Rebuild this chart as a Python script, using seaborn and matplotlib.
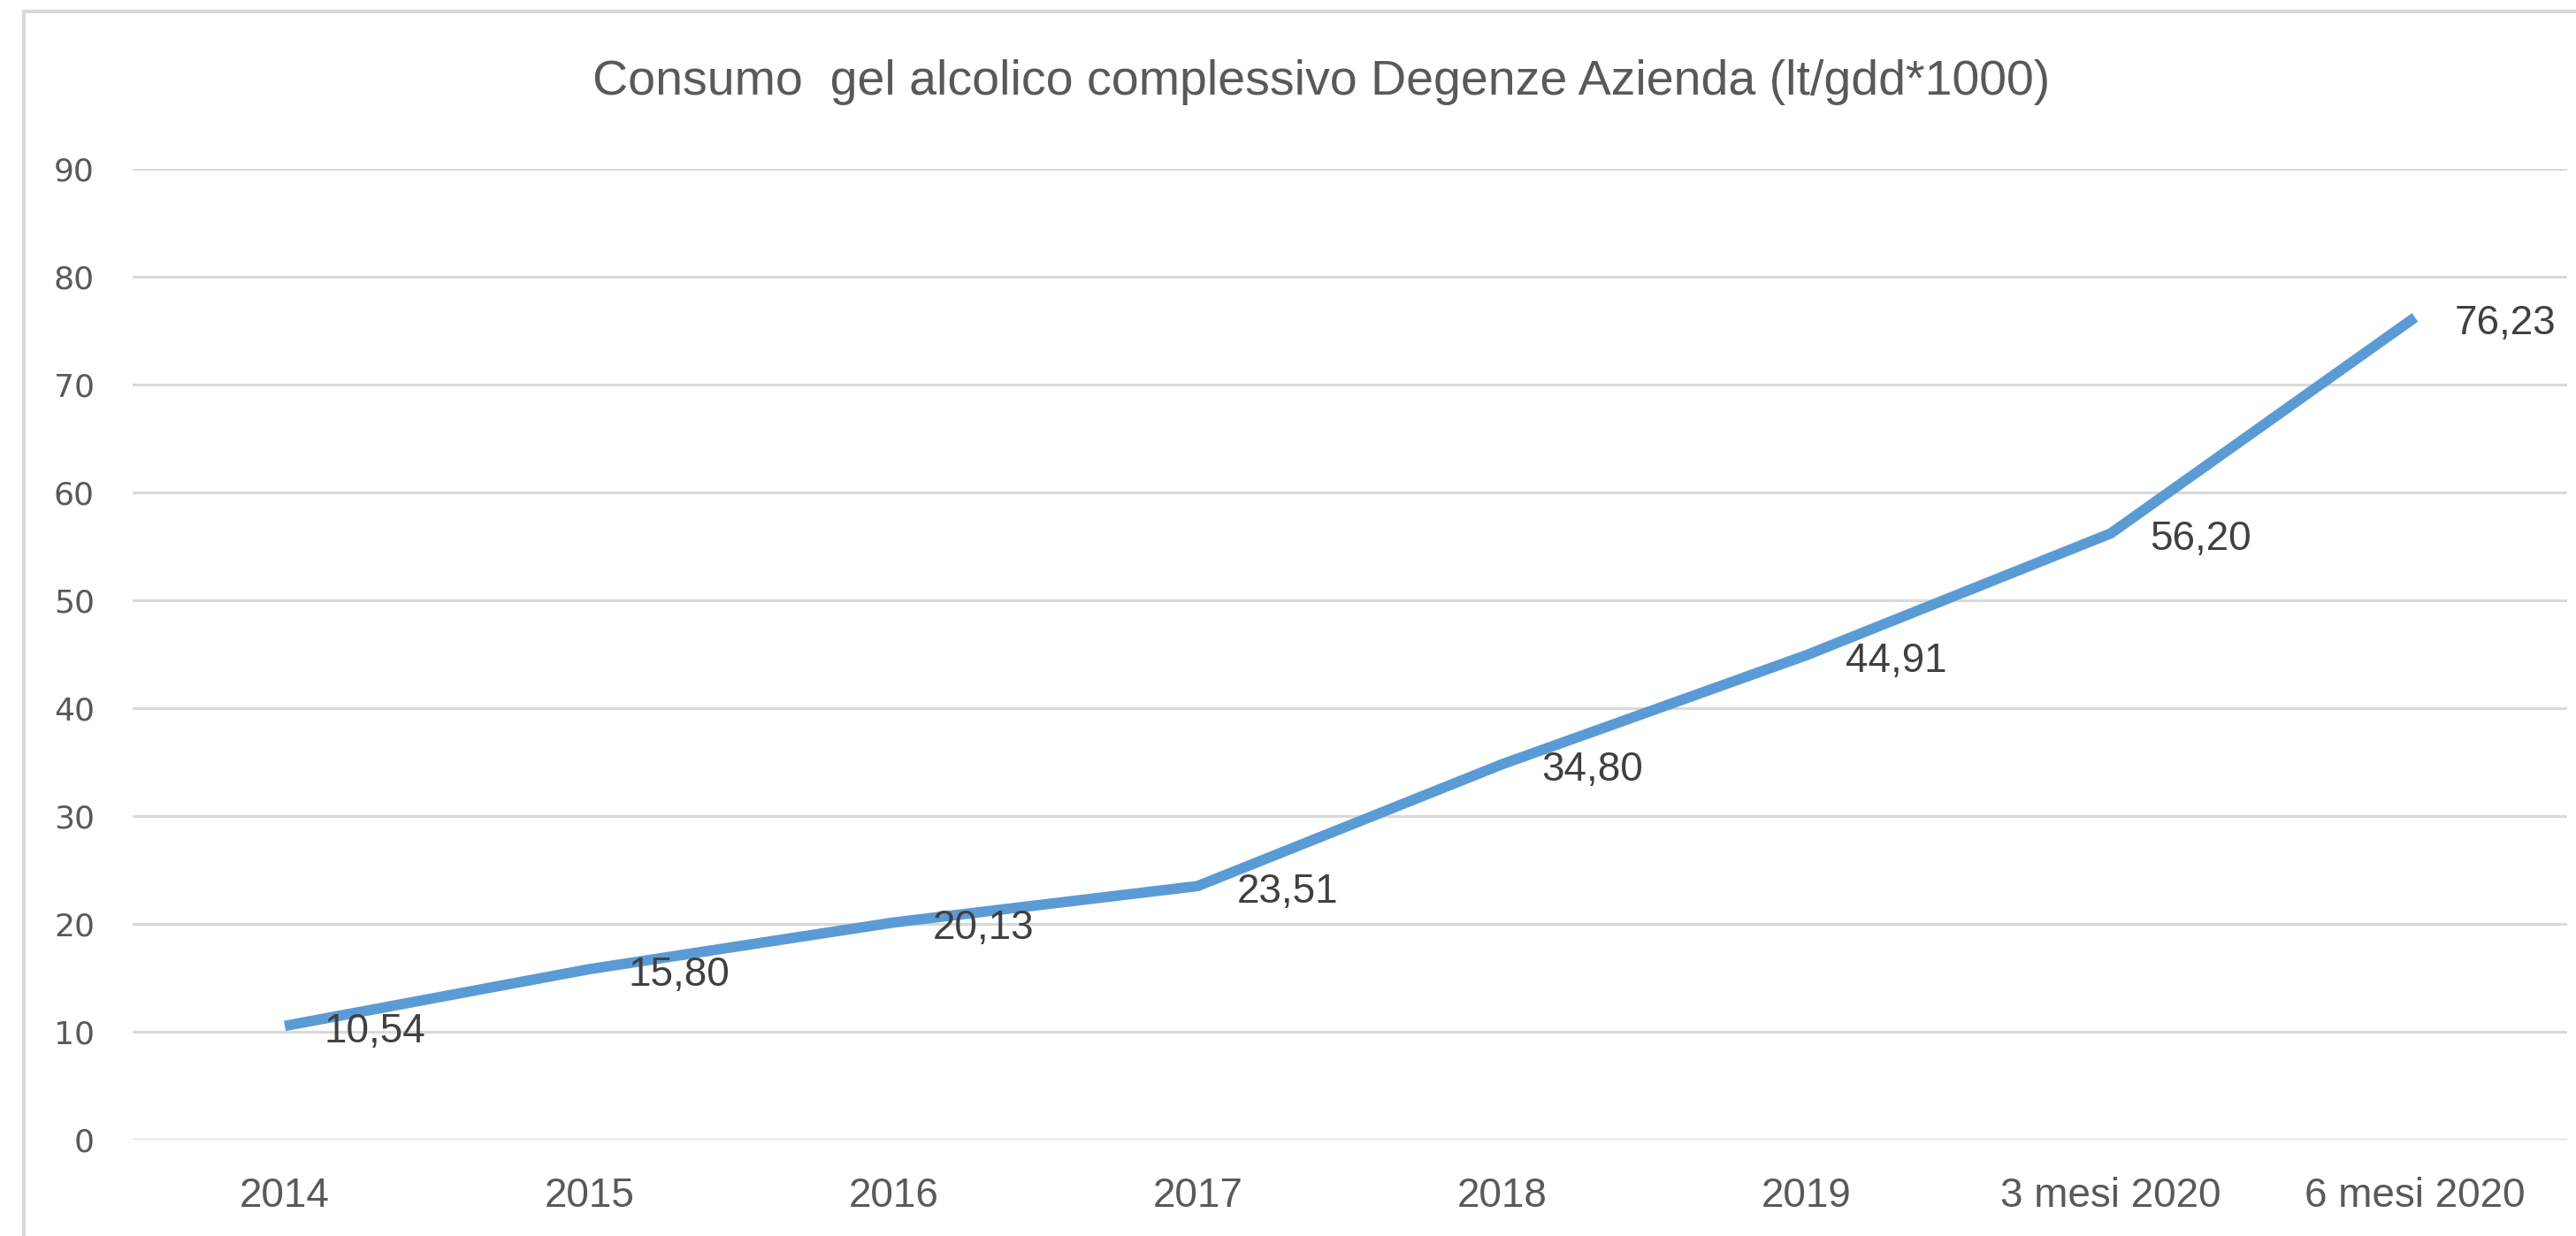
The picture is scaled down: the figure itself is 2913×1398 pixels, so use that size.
import numpy as np
import pandas as pd
import matplotlib
matplotlib.use("Agg")
import matplotlib.pyplot as plt
import seaborn as sns
from matplotlib.lines import Line2D

categories = ["2014", "2015", "2016", "2017", "2018", "2019", "3 mesi 2020", "6 mesi 2020"]
consumo = [10.54, 15.80, 20.13, 23.51, 34.80, 44.91, 56.20, 76.23]
etichette = ["10,54", "15,80", "20,13", "23,51", "34,80", "44,91", "56,20", "76,23"]
y_ticks = [0, 10, 20, 30, 40, 50, 60, 70, 80, 90]

titolo = "Consumo  gel alcolico complessivo Degenze Azienda (lt/gdd*1000)"

sns.set_style("white")
plt.rcParams['font.family'] = ["Liberation Sans", "DejaVu Sans"]

df = pd.DataFrame({"periodo": categories, "consumo": consumo})

fig = plt.figure(figsize=(29.13, 13.98), dpi=100)
ax = fig.add_axes([150 / 2913, 1 - 1289 / 1398, (2903 - 150) / 2913, (1289 - 191) / 1398])

sns.lineplot(data=df, x="periodo", y="consumo", sort=False, ax=ax,
             color="#5b9bd5", linewidth=8.5, solid_capstyle="butt")

for i, (v, t) in enumerate(zip(consumo, etichette)):
    ax.annotate(t, (i, v), xytext=(32, -5), textcoords="offset points",
                ha="left", va="center", fontsize=33, color="#404040")

ax.set_xlim(-0.5, len(categories) - 0.5)
ax.set_ylim(0, 90)
ax.set_yticks(y_ticks)
ax.set_yticklabels([str(t) for t in y_ticks], family="DejaVu Sans", fontsize=26, color="#595959")
ax.tick_params(axis="y", length=0, pad=31)
ax.tick_params(axis="x", length=0, pad=30, labelsize=33, labelcolor="#595959")
ax.yaxis.grid(True, color="#d9d9d9", linewidth=2.2)
ax.xaxis.grid(False)
for s in ax.spines.values():
    s.set_visible(False)
ax.set_xlabel("")
ax.set_ylabel("")

fig.text(0.513, 1 - 93 / 1398, titolo, ha="center", va="center", fontsize=40, color="#595959")

# cornice del grafico (solo bordo sinistro e superiore visibili)
fig.add_artist(Line2D([27 / 2913, 27 / 2913], [0, 1 - 13 / 1398], transform=fig.transFigure,
                      color="#d9d9d9", linewidth=3))
fig.add_artist(Line2D([27 / 2913, 1], [1 - 13 / 1398, 1 - 13 / 1398], transform=fig.transFigure,
                      color="#d9d9d9", linewidth=3))

fig.savefig("out.png", dpi=100)
